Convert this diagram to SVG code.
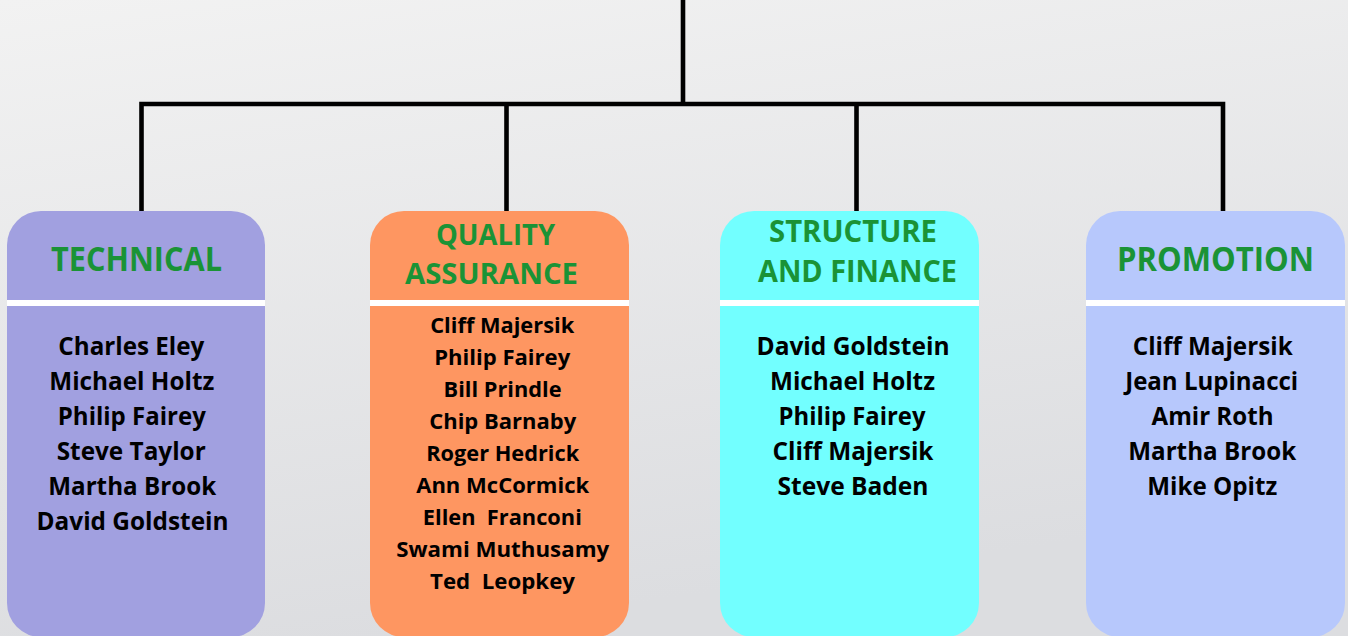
<svg xmlns="http://www.w3.org/2000/svg" width="1348" height="636" viewBox="0 0 1348 636">
<defs>
<linearGradient id="bg" x1="0" y1="0" x2="0.3" y2="1">
<stop offset="0" stop-color="#f2f2f2"/>
<stop offset="1" stop-color="#dcdde0"/>
</linearGradient>
<style>
.hd{font-family:"Open Sans","Noto Sans","Liberation Sans",sans-serif;font-weight:700;fill:#1a9336;text-anchor:middle}
.nm{font-family:"Open Sans","Noto Sans","Liberation Sans",sans-serif;font-weight:700;fill:#000;text-anchor:middle;font-size:25.5px}
.nq{font-size:22px}
.div{fill:#fff}
.conn{stroke:#000;stroke-width:4.6;fill:none;stroke-linecap:square}
</style>
</defs>
<rect width="1348" height="636" fill="url(#bg)"/>
<g id="connectors">
<path class="conn" d="M683 -3V104M141.5 104H1223M141.5 104V211M506.5 104V211M856.5 104V211M1223 104V211"/>
</g>
<g id="technical">
<rect x="7" y="211" width="258" height="426" rx="34" fill="#a1a0e0"/>
<rect class="div" x="7" y="300" width="258" height="6"/>
<text class="hd" x="136.5" y="271" font-size="33.5px" textLength="171" lengthAdjust="spacingAndGlyphs">TECHNICAL</text>
<text class="nm" x="131.3" y="355" textLength="146" lengthAdjust="spacingAndGlyphs">Charles Eley</text>
<text class="nm" x="131.8" y="390" textLength="165" lengthAdjust="spacingAndGlyphs">Michael Holtz</text>
<text class="nm" x="131.8" y="425" textLength="148" lengthAdjust="spacingAndGlyphs">Philip Fairey</text>
<text class="nm" x="131.2" y="460" textLength="149" lengthAdjust="spacingAndGlyphs">Steve Taylor</text>
<text class="nm" x="132.2" y="495" textLength="168" lengthAdjust="spacingAndGlyphs">Martha Brook</text>
<text class="nm" x="132.5" y="530" textLength="192" lengthAdjust="spacingAndGlyphs">David Goldstein</text>
</g>
<g id="quality">
<rect x="370" y="211" width="259" height="426" rx="34" fill="#fe9661"/>
<rect class="div" x="370" y="300" width="259" height="6"/>
<text class="hd" x="495.5" y="245" font-size="28.5px" textLength="119" lengthAdjust="spacingAndGlyphs">QUALITY</text>
<text class="hd" x="491.5" y="284" font-size="28.5px" textLength="173" lengthAdjust="spacingAndGlyphs">ASSURANCE</text>
<text class="nm nq" x="502.2" y="333" textLength="144" lengthAdjust="spacingAndGlyphs">Cliff Majersik</text>
<text class="nm nq" x="502.2" y="365" textLength="136" lengthAdjust="spacingAndGlyphs">Philip Fairey</text>
<text class="nm nq" x="502.5" y="397" textLength="118" lengthAdjust="spacingAndGlyphs">Bill Prindle</text>
<text class="nm nq" x="502.7" y="429" textLength="147" lengthAdjust="spacingAndGlyphs">Chip Barnaby</text>
<text class="nm nq" x="502.7" y="461" textLength="153" lengthAdjust="spacingAndGlyphs">Roger Hedrick</text>
<text class="nm nq" x="502.7" y="493" textLength="173" lengthAdjust="spacingAndGlyphs">Ann McCormick</text>
<text class="nm nq" x="502.3" y="525" textLength="159" lengthAdjust="spacingAndGlyphs" xml:space="preserve">Ellen  Franconi</text>
<text class="nm nq" x="502.7" y="557" textLength="213" lengthAdjust="spacingAndGlyphs">Swami Muthusamy</text>
<text class="nm nq" x="502.5" y="589" textLength="145" lengthAdjust="spacingAndGlyphs" xml:space="preserve">Ted  Leopkey</text>
</g>
<g id="structure">
<rect x="720" y="211" width="259" height="426" rx="34" fill="#72ffff"/>
<rect class="div" x="720" y="300" width="259" height="6"/>
<text class="hd" x="853" y="242" font-size="29.5px" textLength="168" lengthAdjust="spacingAndGlyphs">STRUCTURE</text>
<text class="hd" x="857.5" y="282" font-size="29.5px" textLength="199" lengthAdjust="spacingAndGlyphs">AND FINANCE</text>
<text class="nm" x="853" y="355" textLength="193" lengthAdjust="spacingAndGlyphs">David Goldstein</text>
<text class="nm" x="852.5" y="390" textLength="165" lengthAdjust="spacingAndGlyphs">Michael Holtz</text>
<text class="nm" x="852" y="425" textLength="147" lengthAdjust="spacingAndGlyphs">Philip Fairey</text>
<text class="nm" x="853" y="460" textLength="161" lengthAdjust="spacingAndGlyphs">Cliff Majersik</text>
<text class="nm" x="853" y="495" textLength="151" lengthAdjust="spacingAndGlyphs">Steve Baden</text>
</g>
<g id="promotion">
<rect x="1086" y="211" width="259" height="426" rx="34" fill="#b7c8fc"/>
<rect class="div" x="1086" y="300" width="259" height="6"/>
<text class="hd" x="1215.5" y="271" font-size="33.5px" textLength="197" lengthAdjust="spacingAndGlyphs">PROMOTION</text>
<text class="nm" x="1212.7" y="355" textLength="160" lengthAdjust="spacingAndGlyphs">Cliff Majersik</text>
<text class="nm" x="1211.7" y="390" textLength="173" lengthAdjust="spacingAndGlyphs">Jean Lupinacci</text>
<text class="nm" x="1212.5" y="425" textLength="122" lengthAdjust="spacingAndGlyphs">Amir Roth</text>
<text class="nm" x="1212.2" y="460" textLength="168" lengthAdjust="spacingAndGlyphs">Martha Brook</text>
<text class="nm" x="1212.3" y="495" textLength="130" lengthAdjust="spacingAndGlyphs">Mike Opitz</text>
</g>
</svg>
